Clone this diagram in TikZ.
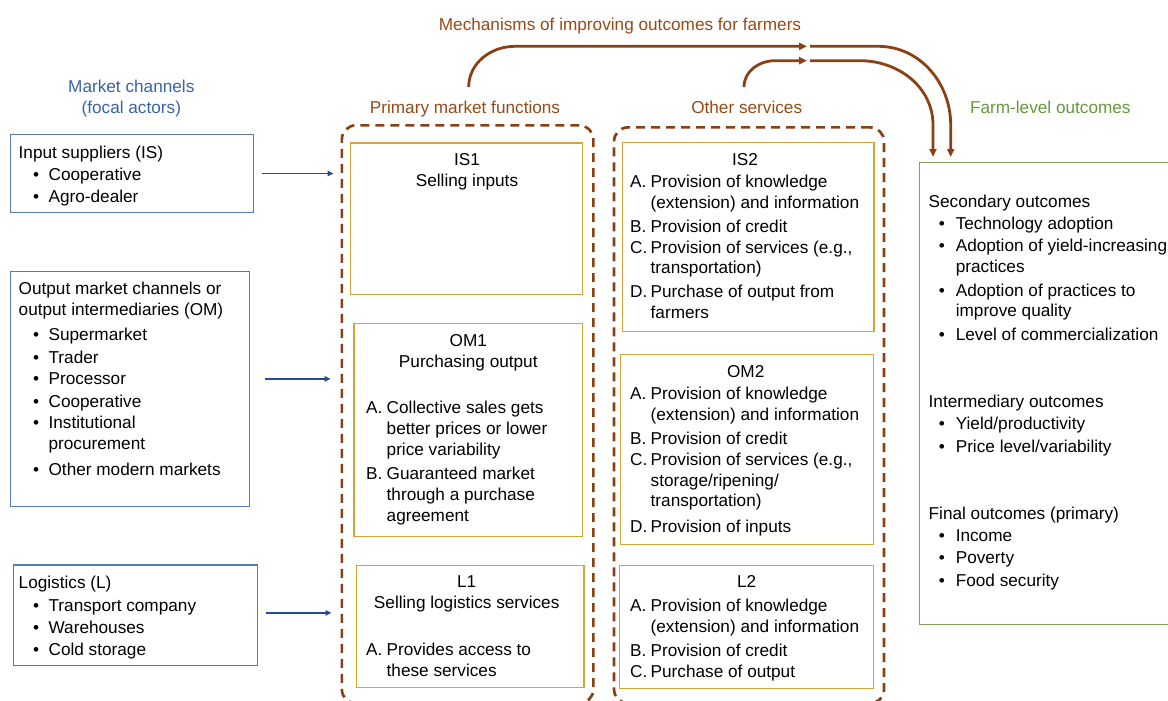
\documentclass[tikz,border=0pt]{standalone}
\usepackage{fontspec}
\setmainfont{Liberation Sans}
\usetikzlibrary{arrows.meta, positioning}
\definecolor{ChanText}{RGB}{58,98,168}
\definecolor{ChanLine}{RGB}{90,122,182}
\definecolor{ChanArrow}{RGB}{40,72,150}
\definecolor{MechBrown}{RGB}{139,64,19}
\definecolor{HeadBrown}{RGB}{152,74,22}
\definecolor{FnGold}{RGB}{214,164,54}
\definecolor{OutText}{RGB}{102,152,62}
\definecolor{OutLine}{RGB}{126,162,96}
\newcommand{\tp}{\rule{0pt}{14pt}}
\newcommand{\chdot}{\makebox[29.9pt][l]{\hspace{14.5pt}\textbullet}}
\newcommand{\outdot}{\makebox[27.1pt][l]{\hspace{10.2pt}\textbullet}}
\newcommand{\lett}[1]{\makebox[20.5pt][l]{#1}}
\newcommand{\hng}{\hspace*{20.5pt}}

\begin{document}
\begin{tikzpicture}[x=1pt, y=-1pt, font=\fontsize{17.2}{20.8}\selectfont,
	chbox/.style={draw=ChanLine, line width=1.3pt, anchor=north west, inner sep=0pt},
	fnbox/.style={draw=FnGold, line width=1.2pt, anchor=north west, inner sep=0pt},
	grp/.style={draw=MechBrown, line width=2.7pt, dash pattern=on 9pt off 6pt, rounded corners=14pt, anchor=north west, inner sep=0pt},
	tl/.style={anchor=north west, inner sep=0pt, align=left},
	tc/.style={anchor=north, inner sep=0pt, align=center},
	chl/.style={-{Triangle[length=6pt,width=5.5pt]}, line width=1.7pt, ChanArrow},
	mech/.style={-{Triangle[length=8pt,width=7pt]}, line width=2.8pt, MechBrown}]
	\useasboundingbox (0,0) rectangle (1168,701);
	% market channels
	\node[tc, text=ChanText] (mc) at (131.3,78.7) {\tp Market channels\\(focal actors)};
	\node[chbox, minimum width=243pt, minimum height=77.7pt] (is) at (10,134) {};
	\node[tl] (is-t) at (18.5,144.3) {\tp Input suppliers (IS)\\[1.2pt]\chdot Cooperative\\[0.9pt]\chdot Agro-dealer};
	\node[chbox, minimum width=239pt, minimum height=235.3pt] (om) at (10,270.7) {};
	\node[tl] (om-t) at (18.5,280.3) {\tp Output market channels or\\output intermediaries (OM)\\[4.2pt]\chdot Supermarket\\[1.9pt]\chdot Trader\\[0.9pt]\chdot Processor\\[1.5pt]\chdot Cooperative\\[0.9pt]\chdot Institutional\\\hspace*{29.9pt}procurement\\[4.8pt]\chdot Other modern markets};
	\node[chbox, minimum width=244.3pt, minimum height=100.7pt] (lg) at (12.7,564.3) {};
	\node[tl] (lg-t) at (18.5,574) {\tp Logistics (L)\\[2.2pt]\chdot Transport company\\[1.5pt]\chdot Warehouses\\[1.2pt]\chdot Cold storage};
	% primary market functions
	\node[tc, text=HeadBrown] (pmf) at (465,99.7) {\tp Primary market functions};
	\node[grp, minimum width=251.5pt, minimum height=578pt] (pm) at (340.5,124) {};
	\node[fnbox, minimum width=231.7pt, minimum height=151.7pt] (is1) at (350,142.3) {};
	\node[tc] (is1-h) at (467,151) {\tp IS1\\Selling inputs};
	\node[fnbox, minimum width=228.4pt, minimum height=213.3pt] (om1) at (353.3,322.7) {};
	\node[tc] (om1-h) at (468.3,332) {\tp OM1\\Purchasing output};
	\node[tl] (om1-t) at (366,399.7) {\tp\lett{A.}Collective sales gets\\\hng better prices or lower\\\hng price variability\\[3.2pt]\lett{B.}Guaranteed market\\\hng through a purchase\\\hng agreement};
	\node[fnbox, minimum width=227.6pt, minimum height=121.7pt] (l1) at (355.7,565) {};
	\node[tc] (l1-h) at (466.7,573.7) {\tp L1\\Selling logistics services};
	\node[tl] (l1-t) at (366,641.3) {\tp\lett{A.}Provides access to\\\hng these services};
	% other services
	\node[tc, text=HeadBrown] (osv) at (746.7,99.7) {\tp Other services};
	\node[grp, minimum width=270pt, minimum height=576pt] (os) at (612.7,126) {};
	\node[fnbox, minimum width=251.6pt, minimum height=189pt] (is2) at (621.7,142) {};
	\node[tc] (is2-h) at (745,151) {\tp IS2};
	\node[tl] (is2-t) at (630,173.7) {\tp\lett{A.}Provision of knowledge\\\hng (extension) and information\\[2.7pt]\lett{B.}Provision of credit\\\lett{C.}Provision of services (e.g.,\\\hng transportation)\\[3.2pt]\lett{D.}Purchase of output from\\\hng farmers};
	\node[fnbox, minimum width=252.7pt, minimum height=190pt] (om2) at (620,354) {};
	\node[tc] (om2-h) at (745.7,363.7) {\tp OM2};
	\node[tl] (om2-t) at (630,385.3) {\tp\lett{A.}Provision of knowledge\\\hng (extension) and information\\[3.4pt]\lett{B.}Provision of credit\\\lett{C.}Provision of services (e.g.,\\\hng storage/ripening/\\\hng transportation)\\[5.2pt]\lett{D.}Provision of inputs};
	\node[fnbox, minimum width=253.7pt, minimum height=122.7pt] (l2) at (619,565) {};
	\node[tc] (l2-h) at (746.7,573.7) {\tp L2};
	\node[tl] (l2-t) at (630,597) {\tp\lett{A.}Provision of knowledge\\\hng (extension) and information\\[3.4pt]\lett{B.}Provision of credit\\\lett{C.}Purchase of output};
	% farm-level outcomes
	\node[tc, text=OutText] (flo) at (1050.3,99.7) {\tp Farm-level outcomes};
	\node[draw=OutLine, line width=1.3pt, anchor=north west, inner sep=0pt, minimum width=262pt, minimum height=462.3pt] (fo) at (919,161.7) {};
	\node[tl] (fo-t) at (928.5,193) {\tp Secondary outcomes\\[1.5pt]\outdot Technology adoption\\[1.6pt]\outdot Adoption of yield-increasing\\\hspace*{27.1pt}practices\\[2.5pt]\outdot Adoption of practices to\\\hspace*{27.1pt}improve quality\\[2.8pt]\outdot Level of commercialization\\[45.9pt]Intermediary outcomes\\[1.5pt]\outdot Yield/productivity\\[1.9pt]\outdot Price level/variability\\[46.5pt]Final outcomes (primary)\\[0.9pt]\outdot Income\\[1.9pt]\outdot Poverty\\[1.5pt]\outdot Food security};
	% channel arrows
	\coordinate (om-o) at ([yshift=10.1pt]om.east);
	\coordinate (lg-o) at ([yshift=2.4pt]lg.east);
	\draw[chl, shorten <=8pt, shorten >=7pt] (is.east) -- (is.east -| pm.west);
	\draw[chl, shorten <=15pt, shorten >=10pt] (om-o) -- (om-o -| pm.west);
	\draw[chl, shorten <=8pt, shorten >=9pt] (lg-o) -- (lg-o -| pm.west);
	% mechanisms
	\node[tc, text=HeadBrown] (mech-t) at (620,16) {\tp Mechanisms of improving outcomes for farmers};
	\coordinate (pm-up) at (468.7,87);
	\coordinate (os-up) at (744,87);
	\coordinate (mech-hi) at (807,46.3);
	\coordinate (mech-lo) at (807,60.7);
	\coordinate (fo-hi-s) at (810,46.3);
	\coordinate (fo-lo-s) at (810,60.7);
	\coordinate (fo-hi) at (950.7,157);
	\coordinate (fo-lo) at (933,157);
	\draw[mech] (pm-up) to[out=90,in=180] (515,46.3) -- (mech-hi);
	\draw[mech] (os-up) to[out=90,in=180] (775,60.7) -- (mech-lo);
	\draw[mech] (fo-hi-s) -- (878,46.3) to[out=0,in=90] (fo-hi |- 0,125) -- (fo-hi);
	\draw[mech] (fo-lo-s) -- (860,60.7) to[out=0,in=90] (fo-lo |- 0,125) -- (fo-lo);
\end{tikzpicture}
\end{document}
